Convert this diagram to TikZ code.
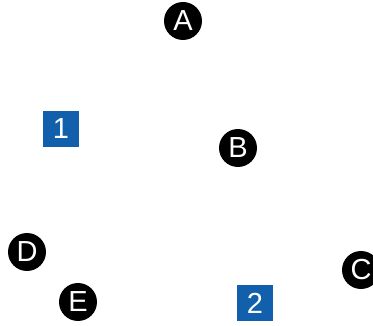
\documentclass[tikz,border=0pt]{standalone}
\usepackage{fontspec}
\setmainfont{Liberation Sans}
\definecolor{boxblue}{RGB}{18,96,172}
\begin{document}
\begin{tikzpicture}[x=1pt,y=-1pt,
  dot/.style={circle,fill=black,text=white,minimum size=38pt,inner sep=0pt,font=\fontsize{29}{29}\selectfont},
  sq/.style={rectangle,fill=boxblue,text=white,minimum width=36pt,minimum height=36pt,inner sep=0pt,font=\fontsize{29}{29}\selectfont}]
\useasboundingbox (0,0) rectangle (373,326);
\node[dot] (A) at (183,21) {A};
\node[dot] (B) at (238,148) {B};
\node[dot] (C) at (361,270) {C};
\node[dot] (D) at (27,252) {D};
\node[dot] (E) at (78,302) {E};
\node[sq] (n1) at (61,129) {1};
\node[sq] (n2) at (255,303) {2};
\end{tikzpicture}
\end{document}
